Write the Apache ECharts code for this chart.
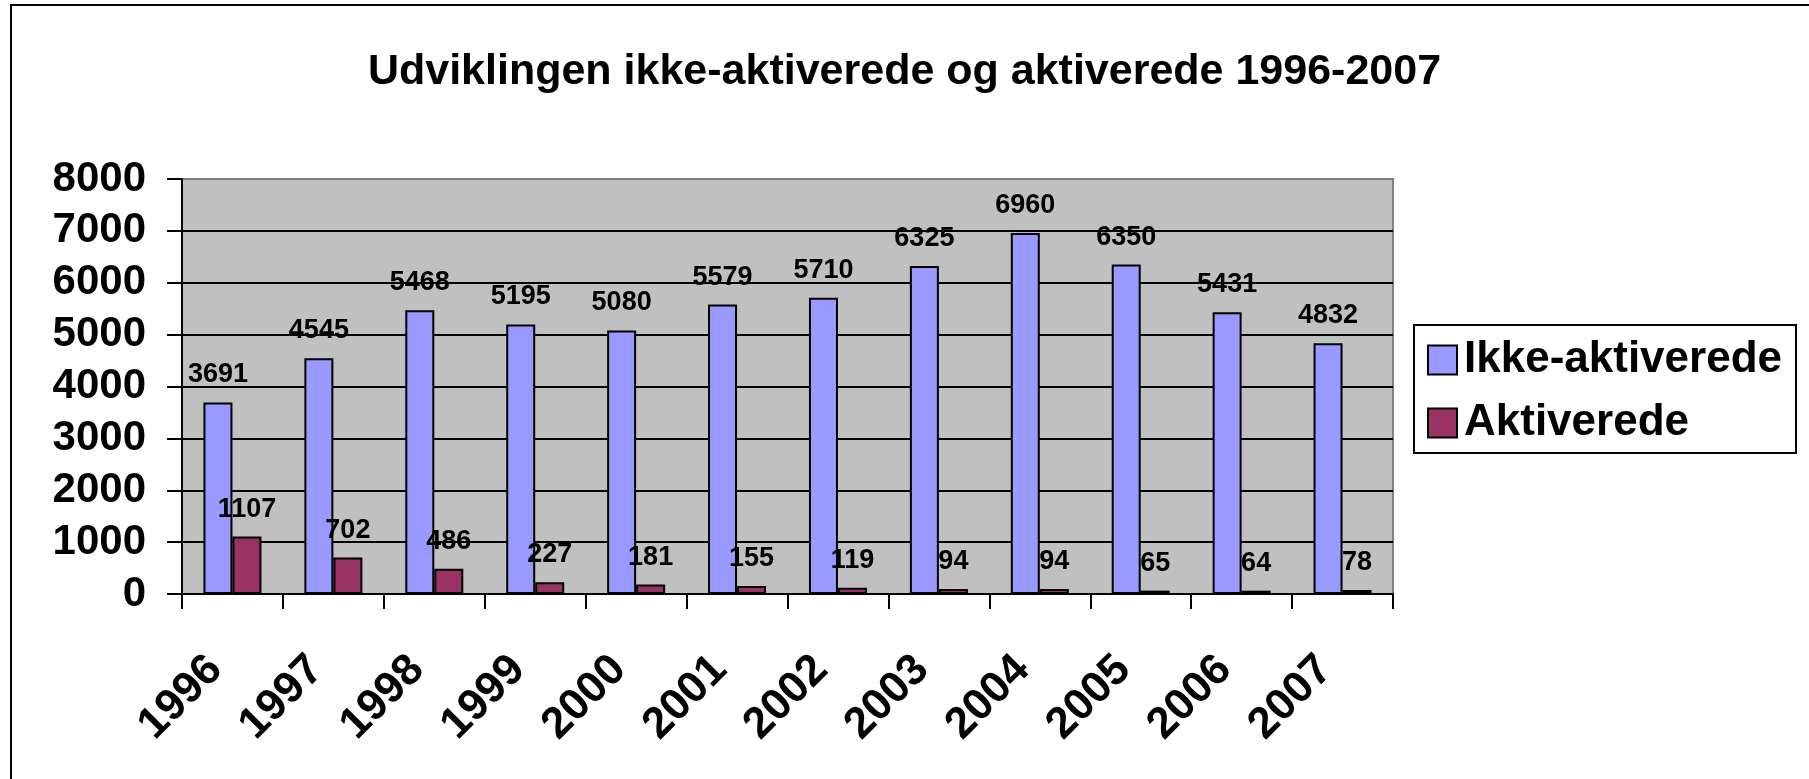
<!DOCTYPE html>
<html>
<head>
<meta charset="utf-8">
<script src="https://cdn.jsdelivr.net/npm/echarts@6/dist/echarts.min.js"></script>
<style>
  html, body { margin: 0; padding: 0; background: #fff; }
  #chart { width: 1809px; height: 779px; }
  .frame {
    position: absolute; left: 10px; top: 4px; right: -10px; bottom: -10px;
    border-top: 2px solid #000; border-left: 2px solid #000;
    pointer-events: none;
  }
</style>
</head>
<body>
<div id="chart"></div>
<div class="frame"></div>
<script>
const years = ['1996', '1997', '1998', '1999', '2000', '2001', '2002', '2003', '2004', '2005', '2006', '2007']
const ikkeAktiverede = [3691, 4545, 5468, 5195, 5080, 5579, 5710, 6325, 6960, 6350, 5431, 4832]
const aktiverede = [1107, 702, 486, 227, 181, 155, 119, 94, 94, 65, 64, 78]
const yTicks = { min: 0, max: 8000, interval: 1000 }

const font = 'Liberation Sans, Arial, sans-serif'
const chart = echarts.init(document.getElementById('chart'))

// gridline colours: black, except the top one which is the grey plot border
const gridColors = []
for (let v = yTicks.min; v <= yTicks.max; v += yTicks.interval) {
  gridColors.push(v === yTicks.max ? '#808080' : '#000')
}

const option = {
  animation: false,
  title: {
    text: 'Udviklingen ikke-aktiverede og aktiverede 1996-2007',
    left: 'center',
    top: 46,
    textStyle: { fontFamily: font, fontSize: 43, fontWeight: 'bold', color: '#000' }
  },
  legend: {
    orient: 'vertical',
    left: 1414,
    top: 325,
    padding: [13, 14, 8, 13],
    itemGap: 19,
    itemWidth: 29,
    itemHeight: 29,
    backgroundColor: '#fff',
    borderColor: '#000',
    borderWidth: 2,
    borderRadius: 0,
    icon: 'rect',
    textStyle: { fontFamily: font, fontSize: 44, fontWeight: 'bold', color: '#000', padding: [0, 0, 0, 2] },
    itemStyle: { borderColor: '#000', borderWidth: 2 }
  },
  grid: {
    left: 182,
    top: 179,
    width: 1211,
    height: 415,
    show: true,
    backgroundColor: '#c0c0c0',
    borderColor: '#808080',
    borderWidth: 2
  },
  xAxis: {
    type: 'category',
    data: years,
    axisLine: { lineStyle: { color: '#000', width: 2 } },
    axisTick: { show: true, length: 15, alignWithLabel: false, interval: 0, lineStyle: { color: '#000', width: 2 } },
    axisLabel: {
      interval: 0,
      rotate: 45,
      margin: 52,
      padding: [0, 24, 0, 0],
      fontFamily: font,
      fontSize: 44,
      fontWeight: 'bold',
      color: '#000'
    }
  },
  yAxis: {
    type: 'value',
    min: yTicks.min,
    max: yTicks.max,
    interval: yTicks.interval,
    axisLine: { show: true, lineStyle: { color: '#000', width: 2 } },
    axisTick: { show: true, length: 15, lineStyle: { color: '#000', width: 2 } },
    splitLine: { show: true, lineStyle: { color: gridColors, width: 2 } },
    axisLabel: {
      margin: 36,
      formatter: v => String(v),
      fontFamily: font,
      fontSize: 42,
      fontWeight: 'bold',
      color: '#000'
    }
  },
  series: [
    {
      name: 'Ikke-aktiverede',
      type: 'bar',
      data: ikkeAktiverede,
      barWidth: 29,
      barGap: '0%',
      itemStyle: { color: '#9999ff', borderColor: '#000', borderWidth: 2 },
      label: {
        show: true,
        position: 'top',
        distance: 14,
        fontFamily: font,
        fontSize: 27,
        fontWeight: 'bold',
        color: '#000'
      }
    },
    {
      name: 'Aktiverede',
      type: 'bar',
      data: aktiverede,
      barWidth: 29,
      barGap: '0%',
      itemStyle: { color: '#993366', borderColor: '#000', borderWidth: 2 },
      label: {
        show: true,
        position: 'top',
        distance: 14,
        fontFamily: font,
        fontSize: 27,
        fontWeight: 'bold',
        color: '#000'
      }
    }
  ]
}

chart.setOption(option)
</script>
</body>
</html>
